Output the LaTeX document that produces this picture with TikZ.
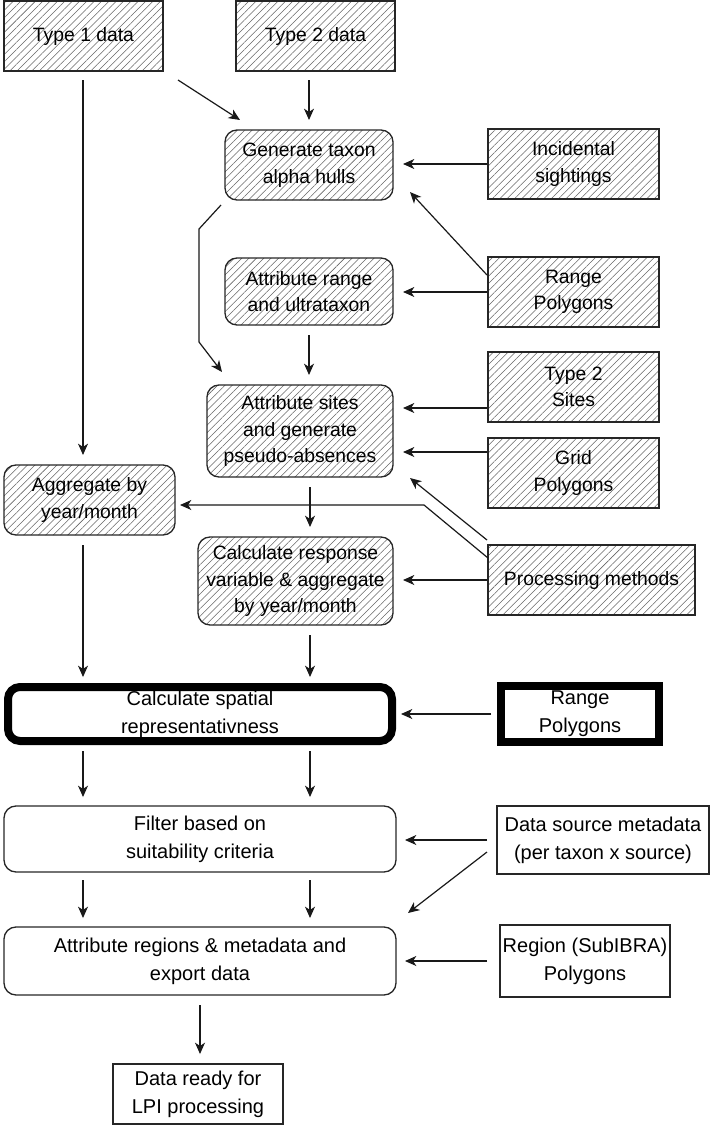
\documentclass[tikz,border=0pt]{standalone}
\usepackage{fontspec}
\setmainfont{Liberation Sans}
\usetikzlibrary{patterns.meta,arrows.meta,calc}
\tikzset{
  x=0.75pt, y=-0.75pt,
  basebox/.style={draw=black!85, line width=1pt, align=center, inner sep=0pt, outer sep=0pt,
    font=\fontsize{14.5}{20}\selectfont},
  hatch/.style={basebox, pattern={Lines[angle=45,distance=3.9pt,line width=0.4pt]}, pattern color=black!60},
  hbox/.style={hatch},
  hround/.style={hatch, rounded corners=9pt},
  pround/.style={basebox, rounded corners=9pt, font=\fontsize{15}{21}\selectfont},
  pbox/.style={basebox, font=\fontsize{15}{21}\selectfont},
  thickround/.style={pround, line width=6pt, draw=black},
  thickbox/.style={pbox, line width=6pt, draw=black},
  arr/.style={-{Stealth[length=8.5pt,width=7.5pt,inset=2.5pt]}, line width=0.9pt, black!90},
}
\newcommand\bx[7]{\node[#6, minimum width={(#4-#2)*0.75pt}, minimum height={(#5-#3)*0.75pt}]
  (#1) at ({(#2+#4)/2},{(#3+#5)/2}) {#7};}
\begin{document}
\begin{tikzpicture}
\useasboundingbox (0,0) rectangle (710,1125);
\bx{t1}{4}{1}{163}{71}{hbox}{Type 1 data}
\bx{t2}{236}{1}{395}{71}{hbox}{Type 2 data}
\bx{gen}{225}{130}{393}{200}{hround}{Generate taxon\\alpha hulls}
\bx{inc}{488}{129}{659}{199}{hbox}{Incidental\\sightings}
\bx{rpa}{488}{257}{659}{327}{hbox}{Range\\Polygons}
\bx{ar}{225}{258}{393}{325}{hround}{Attribute range\\and ultrataxon}
\bx{tts}{488}{352}{659}{422}{hbox}{Type 2\\Sites}
\bx{as}{207}{385}{393}{477}{hround}{Attribute sites\\and generate\\pseudo-absences}
\bx{grid}{488}{438}{659}{508}{hbox}{Grid\\Polygons}
\bx{agg}{4}{465}{175}{535}{hround}{Aggregate by\\year/month}
\bx{pm}{488}{545}{695}{615}{hbox}{Processing methods}
\bx{cr}{198}{537}{393}{625}{hround}{Calculate response\\variable \& aggregate\\by year/month}
\bx{sp}{8}{687}{392}{741}{thickround}{Calculate spatial\\representativness}
\bx{rpb}{501}{686}{659}{742}{thickbox}{Range\\Polygons}
\bx{fil}{4}{806}{396}{872}{pround}{Filter based on\\suitability criteria}
\bx{ds}{497}{806}{709}{874}{pbox}{Data source metadata\\(per taxon x source)}
\bx{reg}{4}{927}{396}{995}{pround}{Attribute regions \& metadata and\\export data}
\bx{rs}{500}{925}{670}{997}{pbox}{Region (SubIBRA)\\Polygons}
\bx{dr}{113}{1064}{283}{1124}{pbox}{Data ready for\\LPI processing}

% top
\draw[arr, shorten <=9*0.75pt, shorten >=10*0.75pt] ($(t1.south)+(-0.5,0)$) coordinate (p) -- (p |- agg.north);
\draw[arr] ($(t1.south east)+(15,9)$) -- ($(gen.north west)+(15,-10)$);
\draw[arr, shorten <=9*0.75pt, shorten >=10*0.75pt] (gen.north |- t2.south) -- (gen.north);
\draw[arr, shorten <=1*0.75pt, shorten >=10*0.75pt] (inc.west) -- (inc.west -| gen.east);
\draw[arr] ($(rpa.west)+(-1,-17)$) -- ($(gen.south east)+(17,-8)$);
\draw[arr, shorten <=1*0.75pt, shorten >=10*0.75pt] (rpa.west) -- (rpa.west -| ar.east);
\draw[arr] ($(gen.south west)+(-4,5)$) -- ($(gen.south west)+(-26,29)$) -- ($(gen.south west)+(-26,142)$) -- ($(as.north west)+(15,-13)$);
\draw[arr, shorten <=10*0.75pt, shorten >=10*0.75pt] (ar.south) -- (ar.south |- as.north);
\draw[arr, shorten <=1*0.75pt, shorten >=10*0.75pt] ($(tts.west)+(0,21)$) coordinate (p) -- (p -| as.east);
\draw[arr, shorten <=1*0.75pt, shorten >=10*0.75pt] ($(grid.west)+(0,-21)$) coordinate (p) -- (p -| as.east);
\draw[arr] ($(pm.north west)+(-1,-5)$) -- ($(as.south east)+(17,1)$);
\draw[arr] ($(pm.north west)+(0,13)$) -- ($(pm.north west)+(-64,-40)$) coordinate (q) -- ($(agg.east |- q)+(5,0)$);
\draw[arr, shorten <=10*0.75pt, shorten >=10*0.75pt] ($(as.south)+(10,0)$) coordinate (p) -- (p |- cr.north);
\draw[arr, shorten <=1*0.75pt, shorten >=10*0.75pt] (pm.west) -- (pm.west -| cr.east);
% middle
\draw[arr, shorten <=10*0.75pt, shorten >=10*0.75pt] ($(agg.south)+(-6.5,0)$) coordinate (p) -- (p |- sp.north);
\draw[arr, shorten <=10*0.75pt, shorten >=10*0.75pt] ($(cr.south)+(14.5,0)$) coordinate (p) -- (p |- sp.north);
\draw[arr, shorten <=10*0.75pt, shorten >=9*0.75pt] (rpb.west) -- (rpb.west -| sp.east);
\draw[arr, shorten <=10*0.75pt, shorten >=9*0.75pt] ($(sp.south)+(-117,0)$) coordinate (p) -- (p |- fil.north);
\draw[arr, shorten <=10*0.75pt, shorten >=9*0.75pt] ($(sp.south)+(110,0)$) coordinate (p) -- (p |- fil.north);
\draw[arr, shorten <=10*0.75pt, shorten >=9*0.75pt] (ds.west) -- (ds.west -| fil.east);
\draw[arr, shorten <=8*0.75pt, shorten >=9*0.75pt] ($(fil.south)+(-117,0)$) coordinate (p) -- (p |- reg.north);
\draw[arr, shorten <=8*0.75pt, shorten >=9*0.75pt] ($(fil.south)+(110,0)$) coordinate (p) -- (p |- reg.north);
\draw[arr] ($(ds.west)+(-10,12)$) -- ($(reg.north east)+(12,-14)$);
\draw[arr, shorten <=13*0.75pt, shorten >=9*0.75pt] (rs.west) -- (rs.west -| reg.east);
\draw[arr, shorten <=10*0.75pt, shorten >=10*0.75pt] (reg.south) -- (reg.south |- dr.north);
\end{tikzpicture}
\end{document}
